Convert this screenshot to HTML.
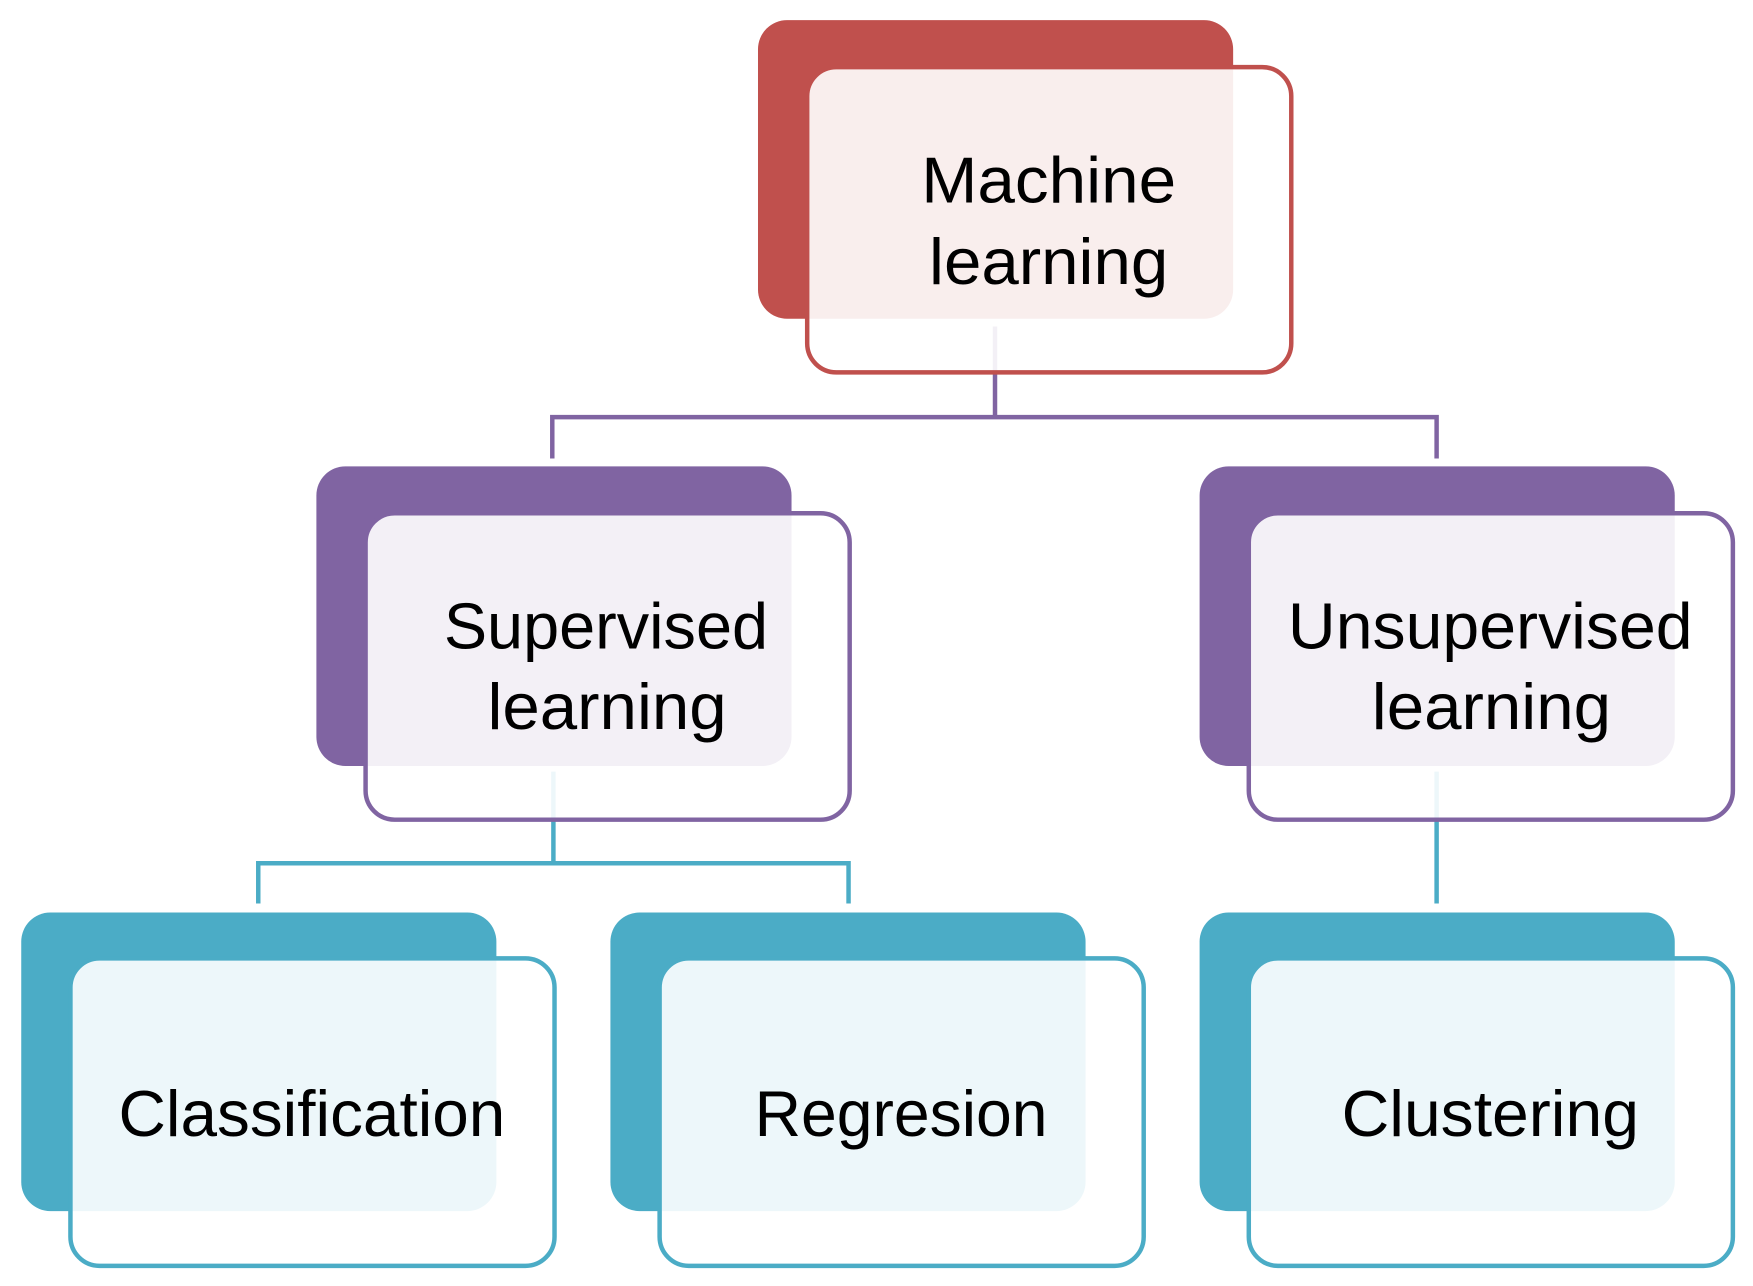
<!DOCTYPE html>
<html><head><meta charset="utf-8"><style>html,body{margin:0;padding:0;background:#fff}svg{display:block}</style></head>
<body>
<svg width="1753" height="1286" viewBox="0 0 1568 1150" preserveAspectRatio="none" xmlns="http://www.w3.org/2000/svg" font-family="'Liberation Sans', sans-serif" font-size="58" fill="#000">
<g fill="none" stroke-width="4">
<path d="M890 292 V373 M494 410 V373 H1285 V410" stroke="#8064A2"/>
<path d="M495 690 V772 M231 808 V772 H759 V808 M1285 690 V808" stroke="#4BACC6"/>
</g>
<!-- Machine -->
<rect x="678" y="18" width="425" height="267" rx="26" fill="#C0504D"/>
<rect x="722" y="60" width="433" height="273" rx="26" fill="#fff" fill-opacity="0.9" stroke="#C0504D" stroke-width="4"/>
<!-- Supervised -->
<rect x="283" y="417" width="425" height="268" rx="26" fill="#8064A2"/>
<rect x="327" y="459" width="433" height="274" rx="26" fill="#fff" fill-opacity="0.9" stroke="#8064A2" stroke-width="4"/>
<rect x="1073" y="417" width="425" height="268" rx="26" fill="#8064A2"/>
<rect x="1117" y="459" width="433" height="274" rx="26" fill="#fff" fill-opacity="0.9" stroke="#8064A2" stroke-width="4"/>
<!-- leaves -->
<rect x="19" y="816" width="425" height="267" rx="26" fill="#4BACC6"/>
<rect x="63" y="857" width="433" height="275" rx="26" fill="#fff" fill-opacity="0.9" stroke="#4BACC6" stroke-width="4"/>
<rect x="546" y="816" width="425" height="267" rx="26" fill="#4BACC6"/>
<rect x="590" y="857" width="433" height="275" rx="26" fill="#fff" fill-opacity="0.9" stroke="#4BACC6" stroke-width="4"/>
<rect x="1073" y="816" width="425" height="267" rx="26" fill="#4BACC6"/>
<rect x="1117" y="857" width="433" height="275" rx="26" fill="#fff" fill-opacity="0.9" stroke="#4BACC6" stroke-width="4"/>
<g text-anchor="middle">
<text x="938" y="181" textLength="228" lengthAdjust="spacingAndGlyphs">Machine</text>
<text x="938" y="254" textLength="214" lengthAdjust="spacingAndGlyphs">learning</text>
<text x="542" y="580" textLength="290" lengthAdjust="spacingAndGlyphs">Supervised</text>
<text x="543" y="652" textLength="214" lengthAdjust="spacingAndGlyphs">learning</text>
<text x="1333" y="580" textLength="362" lengthAdjust="spacingAndGlyphs">Unsupervised</text>
<text x="1334" y="652" textLength="214" lengthAdjust="spacingAndGlyphs">learning</text>
<text x="279" y="1016" textLength="346" lengthAdjust="spacingAndGlyphs">Classification</text>
<text x="806" y="1016" textLength="262" lengthAdjust="spacingAndGlyphs">Regresion</text>
<text x="1333" y="1016" textLength="266" lengthAdjust="spacingAndGlyphs">Clustering</text>
</g>
</svg>
</body></html>
